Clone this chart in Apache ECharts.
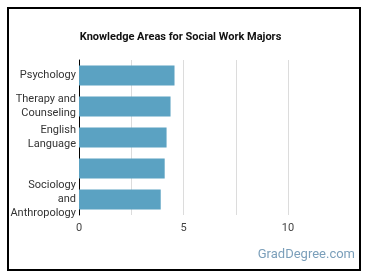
<!DOCTYPE html>
<html>
<head>
<meta charset="utf-8">
<script src="https://cdn.jsdelivr.net/npm/echarts@6/dist/echarts.min.js"></script>
<style>
  html, body { margin: 0; padding: 0; background: #fff; }
  #main { width: 370px; height: 278px; }
</style>
</head>
<body>
<div id="main"></div>
<script>
// knowledge areas, top to bottom (4th bar has no label in the original)
var areas = ['Psychology', 'Therapy and\nCounseling', 'English\nLanguage', '', 'Sociology\nand\nAnthropology'];
var scores = [4.57, 4.38, 4.19, 4.10, 3.91];
var tickLabels = ['0', '5', '10'];

var myChart = echarts.init(document.getElementById('main'));

var option = {
    backgroundColor: '#fff',
    animation: false,
    textStyle: { fontFamily: 'Roboto' },
    graphic: [
        {
            type: 'rect',
            shape: { x: 8, y: 8, width: 352, height: 262 },
            style: { fill: 'none', stroke: '#000', lineWidth: 2 }
        },
        {
            // chart title
            type: 'text',
            x: 180.5,
            y: 37,
            style: {
                text: 'Knowledge Areas for Social Work Majors',
                align: 'center',
                verticalAlign: 'middle',
                fill: '#111',
                fontSize: 11,
                fontWeight: 'bold',
                fontFamily: 'Roboto'
            }
        },
        {
            type: 'text',
            right: 15,
            top: 248,
            style: { text: 'GradDegree.com', fill: '#7b9fba', fontSize: 13, fontFamily: 'Roboto' }
        }
    ],
    grid: { left: 79, right: 82, top: 60, bottom: 63, containLabel: false },
    xAxis: {
        type: 'value',
        min: 0,
        max: 10,
        interval: 2.5,
        axisLine: { show: false },
        axisTick: { show: false },
        splitLine: { lineStyle: { color: '#dcdcdc', width: 1 } },
        axisLabel: {
            color: '#444',
            fontSize: 11,
            margin: 8,
            formatter: function (v) {
                var s = String(v);
                return tickLabels.indexOf(s) >= 0 ? s : '';
            }
        }
    },
    yAxis: {
        type: 'category',
        inverse: true,
        data: areas,
        axisLine: { show: true, lineStyle: { color: '#000', width: 1 } },
        axisTick: { show: false },
        axisLabel: { color: '#333', fontSize: 11, lineHeight: 14, margin: 3, align: 'right' }
    },
    series: [
        {
            type: 'bar',
            data: scores,
            barWidth: 20,
            itemStyle: { color: '#5ba2c2' }
        }
    ]
};

myChart.setOption(option);
</script>
</body>
</html>
